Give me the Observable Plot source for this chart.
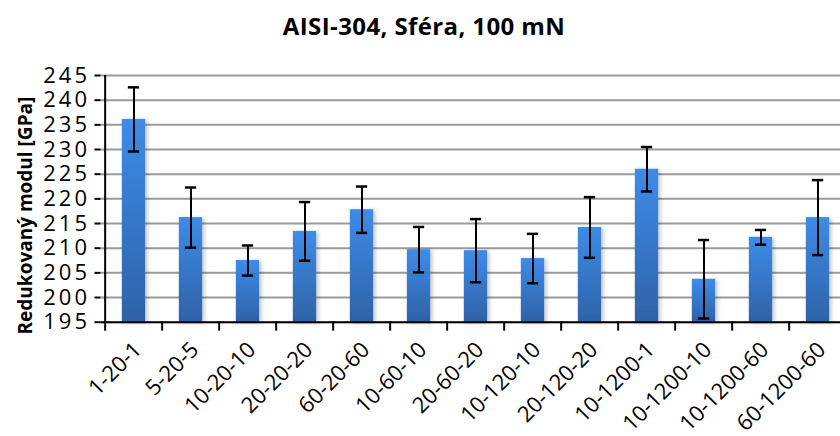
<!DOCTYPE html>
<html>
<head>
<meta charset="utf-8">
<script src="https://cdn.jsdelivr.net/npm/d3@7"></script>
<script src="https://cdn.jsdelivr.net/npm/@observablehq/plot@0.6"></script>
<style>
  html, body { margin: 0; padding: 0; background: #fff; }
  body { width: 840px; height: 436px; overflow: hidden; font-family: "Open Sans", sans-serif; }
  #title { height: 55px; box-sizing: border-box; padding-top: 11px; padding-left: 8px; line-height: 30px;
           text-align: center; font-weight: bold; font-size: 24px; letter-spacing: 0.4px; color: #000; }
  #chart svg { display: block; overflow: hidden; }
</style>
</head>
<body>
<div id="title">AISI-304, Sféra, 100 mN</div>
<div id="chart"></div>
<script>
// Sample labels (indentation parameters)
const categories = ["1-20-1", "5-20-5", "10-20-10", "20-20-20", "60-20-60", "10-60-10", "20-60-20",
  "10-120-10", "20-120-20", "10-1200-1", "10-1200-10", "10-1200-60", "60-1200-60"];
// Mean reduced modulus [GPa]
const modulus = [236.1, 216.2, 207.5, 213.4, 217.8, 209.7, 209.5, 207.9, 214.2, 226.0, 203.7, 212.2, 216.2];
// Standard deviation [GPa]
const deviation = [6.5, 6.1, 3.05, 5.95, 4.7, 4.6, 6.4, 5.0, 6.15, 4.5, 7.95, 1.5, 7.6];
// Value axis ticks
const yTicks = [195, 200, 205, 210, 215, 220, 225, 230, 235, 240, 245];
const yLabel = "Redukovaný modul [GPa]";

const rows = categories.map((c, i) => ({cat: c, value: modulus[i], err: deviation[i]}));

const width = 840, height = 381;
const marginLeft = 100.5, marginRight = -10.6;
const step = (width - marginLeft - marginRight) / categories.length;
const barInset = (step - 24) / 2;
const capInset = (step - 12) / 2;

const chart = Plot.plot({
  width, height,
  marginTop: 20, marginBottom: 114.3, marginLeft, marginRight,
  style: {fontFamily: "Open Sans, sans-serif", fontSize: "22px", color: "#000", background: "#fff"},
  x: {domain: categories, padding: 0},
  y: {domain: [195, 245]},
  marks: [
    Plot.gridY(yTicks, {stroke: "#9a9a9a", strokeOpacity: 1, strokeWidth: 2}),
    Plot.barY(rows, {x: "cat", y1: 195, y2: "value", fill: "url(#barFill)", insetLeft: barInset, insetRight: barInset}),
    Plot.ruleX(rows, {x: "cat", y1: d => d.value - d.err, y2: d => d.value + d.err, stroke: "#000", strokeWidth: 2}),
    Plot.tickY(rows, {x: "cat", y: d => d.value - d.err, stroke: "#000", strokeWidth: 2.5, insetLeft: capInset, insetRight: capInset}),
    Plot.tickY(rows, {x: "cat", y: d => d.value + d.err, stroke: "#000", strokeWidth: 2.5, insetLeft: capInset, insetRight: capInset}),
    Plot.ruleY([195], {stroke: "#000", strokeWidth: 2}),
    Plot.ruleX([categories[0]], {dx: -step / 2, y1: 195, y2: 245, stroke: "#000", strokeWidth: 2}),
    Plot.axisY(yTicks, {tickSize: 6, tickPadding: 5, strokeWidth: 2, label: null}),
    Plot.axisX({tickSize: 9, dx: -step / 2, strokeWidth: 2, tickFormat: () => "", label: null}),
    Plot.axisX({tickSize: 0, tickPadding: 8, tickRotate: -45, dx: 4, dy: 16, label: null}),
    Plot.text([yLabel], {frameAnchor: "left", textAnchor: "middle", rotate: -90, dx: -75, dy: 16.7, fontWeight: "bold", fontSize: 19})
  ]
});

// Gradient fill and soft shadow for the columns
const svg = d3.select(chart);
const defs = svg.insert("defs", ":first-child");
const grad = defs.append("linearGradient").attr("id", "barFill").attr("x1", 0).attr("y1", 0).attr("x2", 0).attr("y2", 1);
grad.append("stop").attr("offset", "0%").attr("stop-color", "#3d8ce8");
grad.append("stop").attr("offset", "100%").attr("stop-color", "#2e62a8");
const shadow = defs.append("filter").attr("id", "barShadow").attr("x", "-30%").attr("y", "-10%").attr("width", "160%").attr("height", "120%");
shadow.append("feDropShadow").attr("dx", 2).attr("dy", 1).attr("stdDeviation", 2).attr("flood-color", "#000").attr("flood-opacity", 0.25);
svg.selectAll('g[aria-label="bar"]').attr("filter", "url(#barShadow)");
// Wider spacing for the value-axis numbers
svg.selectAll('g[aria-label="y-axis tick label"] text').style("letter-spacing", "3px");

document.getElementById("chart").appendChild(chart);
</script>
</body>
</html>
